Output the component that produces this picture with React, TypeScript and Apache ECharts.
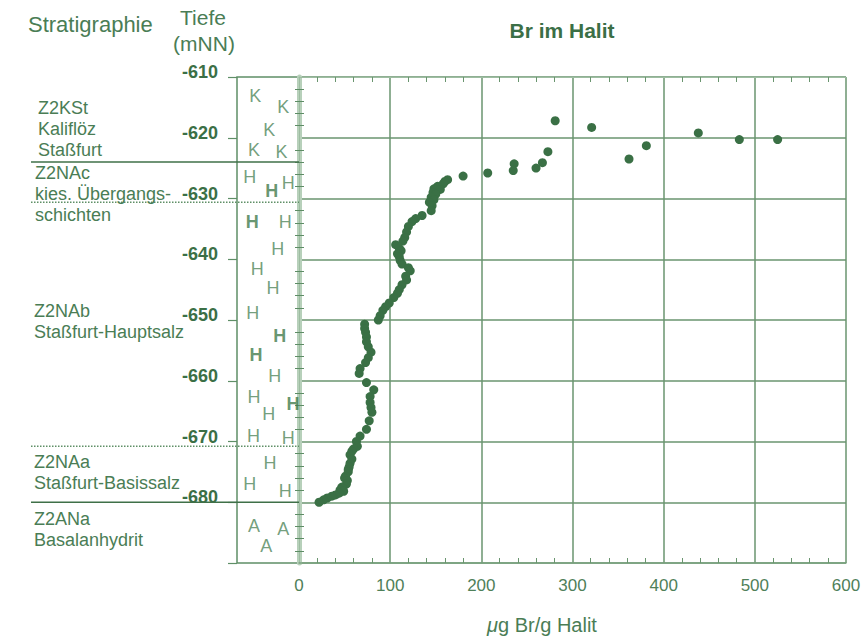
import React, { useEffect, useRef } from 'react';
import * as echarts from 'echarts';

// Depth axis range (m NN) and bromide axis range (µg Br / g Halit)
const depthMin = -690;
const depthMax = -610;
const brMin = 0;
const brMax = 600;

// Bromide content of halite versus depth: [µg Br/g, depth mNN]
const brPoints: [number, number][] = [
  [281, -617.2], [321, -618.3], [438, -619.2], [483, -620.3], [525, -620.3],
  [381, -621.3], [273, -622.3], [362, -623.5], [267, -624.1], [236, -624.3],
  [260, -625.0], [235, -625.4], [207, -625.8], [180, -626.3], [163, -626.9],
  [160, -627.2], [158, -627.6], [152, -628.0], [148, -628.4], [155, -628.5],
  [147, -629.0], [150, -629.3], [145, -629.8], [148, -630.2], [143, -630.6],
  [146, -631.2], [145, -632.0], [135, -632.8], [128, -633.3], [124, -633.8],
  [120, -634.6], [118, -635.5], [116, -636.4], [114, -637.0], [106, -637.6],
  [110, -638.2], [112, -638.6], [108, -639.1], [110, -639.6], [111, -640.2],
  [113, -640.8], [120, -641.4], [122, -641.9], [117, -642.8], [118, -643.4],
  [113, -644.2], [110, -645.0], [108, -645.6], [104, -646.3], [99, -647.2],
  [95, -647.8], [92, -648.4], [89, -649.3], [87, -650.0], [72, -650.7],
  [72, -651.4], [73, -652.0], [74, -652.8], [74, -653.6], [76, -654.4],
  [79, -655.3], [76, -656.2], [73, -657.0], [67, -658.0], [66, -658.8],
  [74, -660.3], [82, -661.5], [78, -662.6], [78, -663.6], [79, -664.4],
  [80, -665.2], [77, -666.6], [74, -668.0], [67, -669.1], [63, -670.0],
  [64, -670.8], [60, -671.2], [58, -671.6], [56, -672.2], [58, -672.9],
  [56, -673.6], [55, -674.2], [54, -674.6], [54, -675.0], [51, -675.7],
  [50, -676.0], [53, -676.4], [52, -677.0], [47, -677.5], [48, -677.8],
  [45, -678.0], [49, -678.2], [44, -678.5], [40, -678.8], [36, -679.0],
  [31, -679.3], [27, -679.6], [22, -680.0],
];

// Lithology symbols in the log column: [position across column 0..1, depth, symbol, weight]
const lithoSymbols: [number, number, string, string][] = [
  [0.3, -613.2, 'K', 'normal'], [0.76, -614.9, 'K', 'normal'], [0.53, -618.8, 'K', 'normal'],
  [0.28, -622.0, 'K', 'normal'], [0.73, -622.3, 'K', 'normal'],
  [0.21, -626.4, 'H', 'normal'], [0.57, -628.8, 'H', 'bold'], [0.84, -627.5, 'H', 'normal'],
  [0.25, -633.8, 'H', 'bold'], [0.79, -633.8, 'H', 'normal'],
  [0.67, -638.3, 'H', 'normal'], [0.33, -641.6, 'H', 'normal'], [0.59, -644.8, 'H', 'normal'],
  [0.26, -648.9, 'H', 'normal'], [0.7, -652.7, 'H', 'bold'], [0.31, -655.7, 'H', 'bold'],
  [0.62, -659.3, 'H', 'normal'], [0.28, -662.6, 'H', 'normal'], [0.52, -665.4, 'H', 'normal'],
  [0.92, -663.9, 'H', 'bold'], [0.27, -669.1, 'H', 'normal'], [0.84, -669.4, 'H', 'normal'],
  [0.54, -673.5, 'H', 'normal'], [0.21, -677.0, 'H', 'normal'], [0.79, -678.1, 'H', 'normal'],
  [0.28, -683.9, 'A', 'normal'], [0.76, -684.4, 'A', 'normal'], [0.48, -687.2, 'A', 'normal'],
];

// Stratigraphic unit boundaries (depth) and whether they are drawn dotted
const boundaryDepths = [-624, -630.6, -670.8, -680];
const boundaryDotted = [false, true, true, false];

// Stratigraphic unit names and the depth of the first text line of each
const stratNames: string[][] = [
  ['Z2KSt', 'Kaliflöz', 'Staßfurt'],
  ['Z2NAc', 'kies. Übergangs-', 'schichten'],
  ['Z2NAb', 'Staßfurt-Hauptsalz'],
  ['Z2NAa', 'Staßfurt-Basissalz'],
  ['Z2ANa', 'Basalanhydrit'],
];
const stratLabelDepths = [-615.1, -625.8, -648.6, -673.3, -682.8];
const stratLabelLeft = [38, 35, 34, 34, 34];

const FONT = '"Liberation Sans", Arial, Helvetica, sans-serif';
const TEXT = '#4a7d55';
const DARK = '#3b6f46';
const GRID = '#6a956f';
const POINT = '#3a7045';

export default function App() {
  const ref = useRef<HTMLDivElement>(null);

  useEffect(() => {
    const chart = echarts.init(ref.current!, null, { renderer: 'svg' });

    chart.setOption({
      animation: false,
      backgroundColor: '#ffffff',
      textStyle: { fontFamily: FONT },
      grid: [
        { left: 299, top: 77, width: 547, height: 486, show: false },
        {
          left: 237, top: 77, width: 61, height: 486, show: true,
          borderColor: '#5f8f67', borderWidth: 1.5, backgroundColor: 'transparent',
        },
      ],
      xAxis: [
        {
          gridIndex: 0, type: 'value', min: brMin, max: brMax, interval: 100, position: 'bottom',
          axisLine: { show: true, lineStyle: { color: '#7aa27f', width: 1.5 } },
          axisTick: { show: false, inside: true },
          minorTick: { show: true, splitNumber: 5, length: 5, lineStyle: { color: '#6a956f', width: 1 } },
          axisLabel: { fontSize: 17, color: '#4f8059', margin: 14, fontFamily: FONT },
          splitLine: { show: true, lineStyle: { color: GRID, width: 1.5 } },
        },
        {
          gridIndex: 0, type: 'value', min: brMin, max: brMax, interval: 100, position: 'top',
          axisLine: { show: true, lineStyle: { color: '#9dbda1', width: 1 } },
          axisTick: { show: false, inside: true },
          minorTick: { show: true, splitNumber: 5, length: 5, lineStyle: { color: '#6a956f', width: 1 } },
          axisLabel: { show: false },
          splitLine: { show: false },
        },
        { gridIndex: 1, type: 'value', min: 0, max: 1, show: false },
      ],
      yAxis: [
        {
          gridIndex: 0, type: 'value', min: depthMin, max: depthMax, interval: 10, position: 'left',
          axisLine: { show: true, lineStyle: { color: '#b7d0ba', width: 5 } },
          axisTick: { show: false, inside: true },
          minorTick: { show: true, splitNumber: 5, length: 5, lineStyle: { color: '#5d8c65', width: 1 } },
          axisLabel: { show: false },
          splitLine: { show: true, lineStyle: { color: GRID, width: 1.5 } },
        },
        {
          gridIndex: 0, type: 'value', min: depthMin, max: depthMax, interval: 10, position: 'right',
          axisLine: { show: true, lineStyle: { color: '#9dbda1', width: 1 } },
          axisTick: { show: false, inside: true },
          minorTick: { show: true, splitNumber: 5, length: 4, lineStyle: { color: '#5d8c65', width: 1 } },
          axisLabel: { show: false },
          splitLine: { show: false },
        },
        {
          gridIndex: 1, type: 'value', min: depthMin, max: depthMax, interval: 10, position: 'left',
          axisLine: { show: false },
          axisTick: { show: true, length: 9, lineStyle: { color: '#5f8f67', width: 1.2 } },
          axisLabel: {
            margin: 19, fontSize: 18, fontWeight: 'bold', color: DARK, fontFamily: FONT,
            // labels sit slightly above their tick
            verticalAlign: 'bottom', lineHeight: 10,
            formatter: (v: number) => (v === depthMin ? '' : String(v)),
          },
          splitLine: { show: false },
        },
      ],
      series: [
        {
          type: 'scatter', name: 'Br im Halit', xAxisIndex: 0, yAxisIndex: 0,
          data: brPoints, symbolSize: 9, itemStyle: { color: POINT, opacity: 1 }, z: 5,
        },
        {
          type: 'scatter', name: 'Lithologie', xAxisIndex: 2, yAxisIndex: 2, symbolSize: 0,
          silent: true,
          data: lithoSymbols.map(([x, d, s, w]) => ({
            value: [x, d],
            label: {
              show: true, position: 'inside', formatter: s, fontSize: 18, fontWeight: w,
              color: w === 'bold' ? '#3f7a4b' : '#4f865a', fontFamily: FONT,
            },
          })),
        },
      ],
    });

    const lineEls = boundaryDepths.map((d, i) => {
      const y = chart.convertToPixel({ yAxisIndex: 0 }, d) as number;
      return {
        type: 'line',
        silent: true,
        z: 10,
        shape: { x1: 31, y1: y, x2: 299, y2: y },
        style: {
          stroke: boundaryDotted[i] ? '#5f8f67' : '#3f7048',
          lineWidth: boundaryDotted[i] ? 1.5 : 1.6,
          lineDash: boundaryDotted[i] ? [1.5, 1.5] : null,
        },
      };
    });

    const stratEls = stratNames.map((lines, i) => {
      const y = chart.convertToPixel({ yAxisIndex: 0 }, stratLabelDepths[i]) as number;
      return {
        type: 'text',
        silent: true,
        z: 11,
        style: {
          text: lines.join('\n'), x: stratLabelLeft[i], y: y - 10.5,
          font: `18px ${FONT}`, lineHeight: 21, fill: TEXT,
          align: 'left', verticalAlign: 'top',
        },
      };
    });

    const headEls = [
      { type: 'text', style: { text: 'Stratigraphie', x: 28, y: 24, font: `22px ${FONT}`, fill: TEXT, align: 'left', verticalAlign: 'middle' } },
      { type: 'text', style: { text: 'Tiefe', x: 203, y: 17, font: `21px ${FONT}`, fill: TEXT, align: 'center', verticalAlign: 'middle' } },
      { type: 'text', style: { text: '(mNN)', x: 204, y: 43, font: `21px ${FONT}`, fill: TEXT, align: 'center', verticalAlign: 'middle' } },
      { type: 'text', style: { text: 'Br im Halit', x: 562, y: 30, font: `bold 21px ${FONT}`, fill: DARK, align: 'center', verticalAlign: 'middle' } },
      {
        type: 'text',
        style: {
          text: '{i|μ}g Br/g Halit', x: 542, y: 625, font: `20px ${FONT}`, fill: TEXT,
          align: 'center', verticalAlign: 'middle',
          rich: { i: { fontStyle: 'italic', fontSize: 20, fontFamily: FONT, fill: TEXT } },
        },
      },
    ];

    chart.setOption({ graphic: { elements: [...lineEls, ...stratEls, ...headEls] } });

    return () => chart.dispose();
  }, []);

  return (
    <div
      ref={ref}
      style={{ position: 'fixed', left: 0, top: 0, width: 864, height: 641, background: '#fff' }}
    />
  );
}
